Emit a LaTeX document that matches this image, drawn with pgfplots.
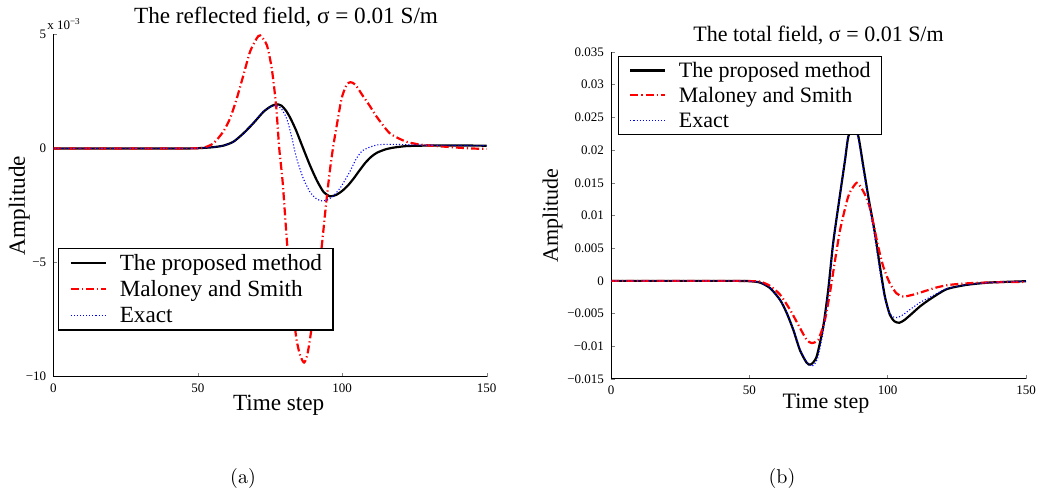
\documentclass[border=0pt]{standalone}
\usepackage{fontspec}
\usepackage{pgfplots}
\pgfplotsset{compat=1.18}
\newfontfamily\tnr{Liberation Serif}
\begin{document}
\begin{tikzpicture}
\path[use as bounding box] (0,0) rectangle (521.5pt,245pt);
\pgfplotsset{
  mystyle/.style={
    scale only axis,
    anchor=south west,
    axis lines=left,
    axis line style={-, line width=0.5pt},
    tick align=inside,
    tick pos=left,
    major tick length=2pt,
    xmin=0, xmax=150,
    xtick={0,50,100,150},
    xticklabels={0,50,100,150},
    tick label style={font=\tnr\fontsize{6.5}{7}\selectfont},
    xlabel={Time step},
    ylabel={Amplitude},
    legend cell align=left,
    legend image code/.code={\draw[##1] (0pt,0pt) -- (17.5pt,0pt);},
    every axis plot/.append style={smooth, tension=0.4},
  },
  blk/.style={black, line width=1.1pt, solid},
  rd/.style={red, line width=1.1pt, dash pattern=on 4pt off 1.5pt on 0.6pt off 1.5pt},
  bl/.style={blue, line width=0.55pt, dash pattern=on 0.55pt off 1pt},
}
% ---------------- (a) reflected field ----------------
\begin{axis}[mystyle,
  at={(26.65pt,56.65pt)}, width=216.7pt, height=171.2pt,
  ymin=-10, ymax=5,
  ytick={-10,-5,0,5},
  yticklabels={−10,−5,0,5},
  title={The reflected field, σ = 0.01 S/m},
  title style={at={(axis description cs:0.537,1)}, anchor=base, yshift=-0.8pt, font=\tnr\fontsize{11.6}{13}\selectfont},
  xlabel style={at={(axis description cs:0.52,0)}, anchor=base, yshift=-16.7pt, font=\tnr\fontsize{11.6}{13}\selectfont},
  ylabel style={at={(axis description cs:-0.0653,0.5)}, anchor=base, font=\tnr\fontsize{11.6}{13}\selectfont},
  legend style={at={(axis description cs:0.0108,0.3759)}, anchor=north west,
    draw=black, line width=0.6pt, fill=white,
    font=\tnr\fontsize{11.6}{13}\selectfont,
    inner xsep=5.5pt, inner ysep=0.85pt,
    nodes={inner xsep=0pt, inner ysep=2.65pt, text height=7.7pt, text depth=0pt},
    /tikz/every odd column/.append style={column sep=6.5pt},
    /tikz/every even column/.append style={column sep=0pt}},
  after end axis/.code={
    \node[anchor=base west, inner sep=0pt, xshift=-3.2pt, yshift=2.2pt,
      font=\tnr\fontsize{6.5}{7}\selectfont] at (rel axis cs:0,1) {x 10\textsuperscript{−3}};
  },
]
\addplot[blk] coordinates {
(0,0) (45,0) (50,0.01) (55,0.05) (58.8,0.12) (62.3,0.29) (65.8,0.66) (69.2,1.1)
(72.7,1.6) (75,1.82) (76.5,1.91) (77.7,1.93) (79,1.87) (80.5,1.66) (82,1.34)
(84,0.8) (86.3,0.06) (88.8,-0.73) (91.2,-1.4) (93.5,-1.9) (95.8,-2.1) (98,-2.03)
(100,-1.86) (102,-1.62) (104,-1.31) (106,-0.96) (108,-0.63) (110,-0.37) (112,-0.19)
(115,-0.04) (118,0.04) (122,0.1) (127,0.12) (135,0.13) (150,0.12)};
\addlegendentry{The proposed method}
\addplot[rd] coordinates {
(0,0) (45,0) (50,0.01) (52,0.03) (55.4,0.22) (58.8,0.73) (61.2,1.32) (63.5,2.19)
(65.8,3.21) (68.1,4.24) (70.4,4.82) (71.6,4.95) (73.9,4.53) (75.6,3.51) (77.1,1.9)
(78.2,0) (79.4,-1.5) (81,-4.3) (83.1,-7.22) (84.2,-8.39) (85.5,-9.1) (86.8,-9.38)
(87.8,-9.1) (88.8,-8.39) (91.2,-6.2) (92.9,-4.3) (94.6,-2.2) (95.8,-0.9) (96.9,0.1)
(98.1,1.0) (99.8,2.2) (101.5,2.78) (102.8,2.9) (104.5,2.8) (107.3,2.27) (109.6,1.85)
(111.9,1.39) (116.5,0.66) (122.3,0.29) (128.1,0.15) (136.2,0.07) (144.2,0.0) (150,-0.02)};
\addlegendentry{Maloney and Smith}
\addplot[bl] coordinates {
(0,0) (45,0) (50,0.01) (55,0.05) (58.8,0.12) (62.3,0.29) (65.8,0.66) (69.2,1.1)
(72.7,1.6) (75,1.82) (77,1.88) (78.8,1.76) (80.8,1.3) (82.5,0.5) (84.2,-0.43)
(86.5,-1.31) (88.8,-1.9) (91,-2.2) (93,-2.3) (95,-2.25) (97,-2.07) (99.2,-1.75)
(101,-1.38) (102.7,-1.0) (105,-0.42) (107,-0.1) (109.6,0.06) (112,0.15) (115,0.18)
(120,0.17) (130,0.14) (150,0.12)};
\addlegendentry{Exact}
\end{axis}
% ---------------- (b) total field ----------------
\begin{axis}[mystyle,
  at={(305.5pt,55.5pt)}, width=207.5pt, height=163.5pt,
  ymin=-0.015, ymax=0.035,
  scaled y ticks=false,
  ytick={-0.015,-0.01,-0.005,0,0.005,0.01,0.015,0.02,0.025,0.03,0.035},
  yticklabels={−0.015,−0.01,−0.005,0,0.005,0.01,0.015,0.02,0.025,0.03,0.035},
  title={The total field, σ = 0.01 S/m},
  title style={at={(axis description cs:0.5,1)}, anchor=base, yshift=-0.8pt, font=\tnr\fontsize{11}{13}\selectfont},
  xlabel style={at={(axis description cs:0.518,0)}, anchor=base, yshift=-14.6pt, font=\tnr\fontsize{11}{13}\selectfont},
  ylabel style={at={(axis description cs:-0.128,0.5)}, anchor=base, font=\tnr\fontsize{11}{13}\selectfont},
  legend style={at={(axis description cs:0.0169,0.9878)}, anchor=north west,
    draw=black, line width=0.6pt, fill=white,
    font=\tnr\fontsize{11}{13}\selectfont,
    inner xsep=5.3pt, inner ysep=0.8pt,
    nodes={inner xsep=0pt, inner ysep=2.55pt, text height=7.3pt, text depth=0pt},
    /tikz/every odd column/.append style={column sep=6.2pt},
    /tikz/every even column/.append style={column sep=0pt}},
]
\addplot[blk] coordinates {
(0,0) (45,0) (50,-0.00005) (53.8,-0.00025) (57.5,-0.0011) (61.1,-0.0029) (63.5,-0.0049)
(65.9,-0.0075) (68.3,-0.0106) (70.7,-0.0125) (72.2,-0.0128) (74.3,-0.0116) (76.7,-0.0070)
(78.5,-0.0014) (80.3,0.0058) (82.5,0.0124) (84.6,0.0185) (85.8,0.0221) (87.7,0.0235)
(89.4,0.0221) (91.2,0.0175) (93.2,0.0124) (95.4,0.0073) (97.2,0.0022) (99,-0.0024)
(100.8,-0.0052) (102.5,-0.0062) (104.2,-0.0064) (106,-0.0060) (108.5,-0.0051)
(111.7,-0.0039) (115.3,-0.0028) (121.3,-0.00127) (128.5,-0.00061) (137,-0.00025) (150,-0.00005)};
\addlegendentry{The proposed method}
\addplot[rd] coordinates {
(0,0) (45,0) (50,-0.00003) (53.8,-0.0001) (57.5,-0.00076) (61.1,-0.0021) (64.7,-0.0044)
(68.3,-0.0072) (70.7,-0.0090) (72.5,-0.0095) (74.9,-0.0090) (77.3,-0.0060) (79.1,-0.0019)
(81,0.0032) (82.8,0.0078) (85.2,0.0121) (86.4,0.0136) (88.8,0.0150) (90.5,0.0142)
(92,0.0130) (93.4,0.0114) (94.8,0.0088) (96.6,0.0052) (98.4,0.0022) (100.8,-0.0004)
(103.2,-0.0019) (105.6,-0.0024) (109.3,-0.0021) (111.7,-0.0018) (117.7,-0.0010)
(122.5,-0.0006) (129.7,-0.00035) (139.4,-0.0002) (150,-0.00015)};
\addlegendentry{Maloney and Smith}
\addplot[bl] coordinates {
(0,0) (45,0) (50,-0.00005) (53.8,-0.00025) (57.5,-0.0011) (61.1,-0.0029) (63.5,-0.0048)
(65.9,-0.0074) (68.3,-0.0104) (70.7,-0.0124) (72.8,-0.0130) (74.7,-0.0118) (76.9,-0.0072)
(78.6,-0.0016) (80.3,0.0056) (82.5,0.0124) (84.5,0.0186) (85.7,0.0221) (87.5,0.0233)
(89.2,0.0221) (91,0.0175) (93,0.0124) (95.2,0.0070) (97,0.0020) (98.8,-0.0024)
(100.6,-0.0048) (102,-0.0055) (103.5,-0.0056) (105.5,-0.0052) (108,-0.0044)
(111.7,-0.0033) (115.3,-0.0025) (121.3,-0.0012) (128.5,-0.0006) (137,-0.00025) (150,-0.00005)};
\addlegendentry{Exact}
\end{axis}
\node[anchor=base, inner sep=0pt, font=\fontsize{10}{12}\selectfont] at (121.5pt,3pt) {(a)};
\node[anchor=base, inner sep=0pt, font=\fontsize{10}{12}\selectfont] at (391pt,3pt) {(b)};
\end{tikzpicture}
\end{document}
